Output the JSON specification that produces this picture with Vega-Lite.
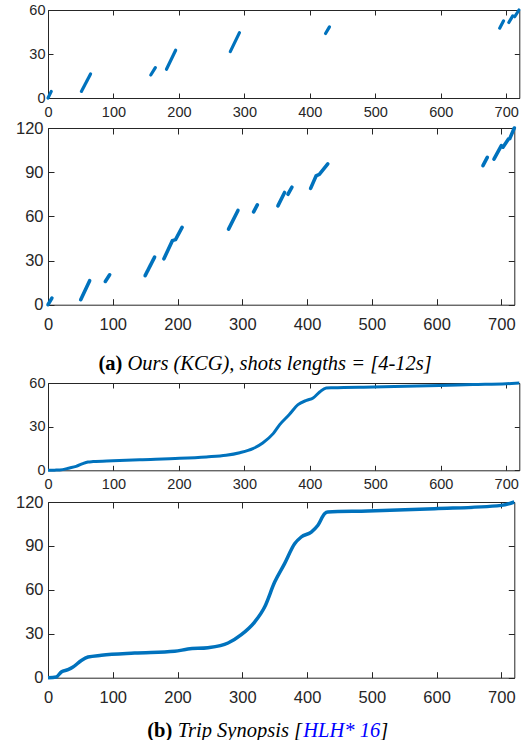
{
  "$schema": "https://vega.github.io/schema/vega-lite/v6.json",
  "background": "white",
  "padding": {"left": 5, "top": 0, "right": 5, "bottom": 0},
  "columns": 1,
  "align": "none",
  "bounds": "full",
  "spacing": {"row": -30, "column": 0},
  "config": {
    "view": {"stroke": "#262626", "strokeWidth": 1},
    "axis": {
      "domain": false, "grid": false, "labelFlush": false, "labelOverlap": false,
      "labelFont": "Liberation Sans", "labelColor": "#262626", "tickColor": "#262626", "tickWidth": 1,
      "titleFont": "Liberation Serif", "titleFontSize": 20.5, "titleColor": "#000000", "titleFontWeight": "normal",
      "maxExtent": 300
    }
  },
  "datasets": {
    "p1": [
      {"seg": 1, "x": 0, "y": 0}, {"seg": 1, "x": 5, "y": 4.5},
      {"seg": 2, "x": 51, "y": 4.5}, {"seg": 2, "x": 65, "y": 16.4},
      {"seg": 3, "x": 157, "y": 15.7}, {"seg": 3, "x": 164, "y": 20.7},
      {"seg": 4, "x": 181, "y": 19.6}, {"seg": 4, "x": 195, "y": 32.6},
      {"seg": 5, "x": 278.5, "y": 31.6}, {"seg": 5, "x": 292.5, "y": 44.6},
      {"seg": 6, "x": 424, "y": 44}, {"seg": 6, "x": 430, "y": 48.5},
      {"seg": 7, "x": 690, "y": 47.6}, {"seg": 7, "x": 696, "y": 52.6},
      {"seg": 8, "x": 704, "y": 51.5}, {"seg": 8, "x": 710, "y": 56},
      {"seg": 9, "x": 713, "y": 55.4}, {"seg": 9, "x": 719.5, "y": 60}
    ],
    "p2": [
      {"seg": 1, "x": 0, "y": 0}, {"seg": 1, "x": 6, "y": 4.5},
      {"seg": 2, "x": 50.5, "y": 3.4}, {"seg": 2, "x": 64.3, "y": 16.3},
      {"seg": 3, "x": 88.5, "y": 15.8}, {"seg": 3, "x": 95.2, "y": 20.3},
      {"seg": 4, "x": 150, "y": 19.7}, {"seg": 4, "x": 164.6, "y": 32.3},
      {"seg": 5, "x": 179, "y": 31.2}, {"seg": 5, "x": 192, "y": 43.5}, {"seg": 5, "x": 197, "y": 44.2}, {"seg": 5, "x": 207, "y": 52.5},
      {"seg": 6, "x": 278.8, "y": 51.3}, {"seg": 6, "x": 293.3, "y": 64},
      {"seg": 7, "x": 317.5, "y": 63}, {"seg": 7, "x": 323.2, "y": 67.8},
      {"seg": 8, "x": 355, "y": 67.1}, {"seg": 8, "x": 365.3, "y": 76.2},
      {"seg": 9, "x": 370.5, "y": 75}, {"seg": 9, "x": 376.7, "y": 79.8},
      {"seg": 10, "x": 405.5, "y": 79}, {"seg": 10, "x": 414, "y": 87.5}, {"seg": 10, "x": 419, "y": 88.5}, {"seg": 10, "x": 432, "y": 95.6},
      {"seg": 11, "x": 671.6, "y": 94.5}, {"seg": 11, "x": 678.3, "y": 100.1},
      {"seg": 12, "x": 688.6, "y": 98.8}, {"seg": 12, "x": 700, "y": 108},
      {"seg": 13, "x": 702.5, "y": 107}, {"seg": 13, "x": 711, "y": 112.5}, {"seg": 13, "x": 713, "y": 112.8}, {"seg": 13, "x": 720, "y": 120}
    ],
    "p3": [
      {"x": 0, "y": 0}, {"x": 10, "y": 0.1}, {"x": 18, "y": 0.2}, {"x": 33, "y": 1.6}, {"x": 43, "y": 2.7},
      {"x": 53, "y": 4.6}, {"x": 61, "y": 5.7}, {"x": 69, "y": 6}, {"x": 99, "y": 6.6}, {"x": 140, "y": 7.3},
      {"x": 201, "y": 8.2}, {"x": 242, "y": 9.2}, {"x": 272, "y": 10.3}, {"x": 293, "y": 12.1}, {"x": 313, "y": 14.9},
      {"x": 328, "y": 18.8}, {"x": 344, "y": 25.2}, {"x": 354, "y": 31.4}, {"x": 369, "y": 38.5}, {"x": 382, "y": 45.1},
      {"x": 395, "y": 48.1}, {"x": 405, "y": 49.7}, {"x": 415, "y": 53.8}, {"x": 425, "y": 56.6}, {"x": 435, "y": 56.8},
      {"x": 497, "y": 57.3}, {"x": 598, "y": 58.2}, {"x": 649, "y": 58.9}, {"x": 700, "y": 59.5}, {"x": 720, "y": 60}
    ],
    "p4": [
      {"x": 0, "y": 0}, {"x": 12.8, "y": 0.5}, {"x": 20.5, "y": 3.9}, {"x": 30.9, "y": 5.5}, {"x": 38.6, "y": 7.3},
      {"x": 51.5, "y": 11.8}, {"x": 61.8, "y": 14.1}, {"x": 82.4, "y": 15.3}, {"x": 133.8, "y": 16.8}, {"x": 195.6, "y": 18},
      {"x": 216, "y": 19.6}, {"x": 247, "y": 20.5}, {"x": 278, "y": 23.7}, {"x": 298.5, "y": 29.4}, {"x": 319, "y": 38},
      {"x": 334.5, "y": 48.3}, {"x": 350, "y": 65.3}, {"x": 365.3, "y": 77.9}, {"x": 380.8, "y": 91.5}, {"x": 391, "y": 96.1},
      {"x": 406.5, "y": 99.5}, {"x": 416.8, "y": 104.1}, {"x": 427, "y": 112}, {"x": 432, "y": 113.2}, {"x": 494, "y": 113.8},
      {"x": 597, "y": 115.4}, {"x": 700, "y": 117.7}, {"x": 720, "y": 120}
    ]
  },
  "concat": [
    {
      "width": 471.3, "height": 88,
      "data": {"name": "p1"},
      "layer": [
        {
          "mark": {"type": "line", "color": "#0072BD", "strokeWidth": 3.2, "strokeCap": "round"},
          "encoding": {
            "x": {"field": "x", "type": "quantitative", "scale": {"domain": [0, 720], "nice": false, "zero": false},
              "axis": {"orient": "bottom", "values": [0, 100, 200, 300, 400, 500, 600, 700], "tickSize": -5, "labelPadding": 12.2, "labelFontSize": 14.5, "minExtent": 47.7, "title": null}},
            "y": {"field": "y", "type": "quantitative", "scale": {"domain": [0, 60], "nice": false},
              "axis": {"orient": "left", "values": [0, 30, 60], "tickSize": -5, "labelPadding": 8, "labelFontSize": 14.5, "minExtent": 37, "title": null}},
            "detail": {"field": "seg", "type": "nominal"}
          }
        },
        {
          "mark": {"type": "line", "opacity": 0},
          "encoding": {
            "x": {"field": "x", "type": "quantitative", "scale": {"domain": [0, 720], "nice": false, "zero": false},
              "axis": {"orient": "top", "values": [0, 100, 200, 300, 400, 500, 600, 700], "tickSize": -5, "labels": false, "minExtent": 9.3, "title": null}},
            "y": {"field": "y", "type": "quantitative", "scale": {"domain": [0, 60], "nice": false},
              "axis": {"orient": "right", "values": [0, 30, 60], "tickSize": -5, "labels": false, "minExtent": 0, "title": null}},
            "detail": {"field": "seg", "type": "nominal"}
          }
        }
      ],
      "resolve": {"axis": {"x": "independent", "y": "independent"}}
    },
    {
      "width": 466.3, "height": 176.7,
      "data": {"name": "p2"},
      "layer": [
        {
          "mark": {"type": "line", "color": "#0072BD", "strokeWidth": 3.6, "strokeCap": "round"},
          "encoding": {
            "x": {"field": "x", "type": "quantitative", "scale": {"domain": [0, 720], "nice": false, "zero": false},
              "axis": {"orient": "bottom", "values": [0, 100, 200, 300, 400, 500, 600, 700], "tickSize": -6, "labelPadding": 17.3, "labelFontSize": 16.5, "minExtent": 96,
                "title": "(a)", "titleFontWeight": "bold", "titleAlign": "right", "titleBaseline": "alphabetic", "titleAngle": 0, "titleX": 73.8, "titleY": 64.3}},
            "y": {"field": "y", "type": "quantitative", "scale": {"domain": [0, 120], "nice": false},
              "axis": {"orient": "left", "values": [0, 30, 60, 90, 120], "tickSize": -6, "labelPadding": 11, "labelFontSize": 16.5, "minExtent": 41.7, "title": null}},
            "detail": {"field": "seg", "type": "nominal"}
          }
        },
        {
          "mark": {"type": "line", "opacity": 0},
          "encoding": {
            "x": {"field": "x", "type": "quantitative", "scale": {"domain": [0, 720], "nice": false, "zero": false},
              "axis": {"orient": "top", "values": [0, 100, 200, 300, 400, 500, 600, 700], "tickSize": -6, "labels": false, "minExtent": 10,
                "title": "Ours (KCG), shots lengths = [4-12s]", "titleFontStyle": "italic", "titleAlign": "left", "titleBaseline": "alphabetic", "titleAngle": 0, "titleX": 78.9, "titleY": 241}},
            "y": {"field": "y", "type": "quantitative", "scale": {"domain": [0, 120], "nice": false},
              "axis": {"orient": "right", "values": [0, 30, 60, 90, 120], "tickSize": -6, "labels": false, "minExtent": 0, "title": null}},
            "detail": {"field": "seg", "type": "nominal"}
          }
        }
      ],
      "resolve": {"axis": {"x": "independent", "y": "independent"}}
    },
    {
      "width": 471.3, "height": 87.3,
      "data": {"name": "p3"},
      "layer": [
        {
          "mark": {"type": "line", "color": "#0072BD", "strokeWidth": 3, "interpolate": "monotone"},
          "encoding": {
            "x": {"field": "x", "type": "quantitative", "scale": {"domain": [0, 720], "nice": false, "zero": false},
              "axis": {"orient": "bottom", "values": [0, 100, 200, 300, 400, 500, 600, 700], "tickSize": -5, "labelPadding": 12.2, "labelFontSize": 14.5, "minExtent": 50, "title": null}},
            "y": {"field": "y", "type": "quantitative", "scale": {"domain": [0, 60], "nice": false},
              "axis": {"orient": "left", "values": [0, 30, 60], "tickSize": -5, "labelPadding": 8, "labelFontSize": 14.5, "minExtent": 37, "title": null}}
          }
        },
        {
          "mark": {"type": "line", "opacity": 0},
          "encoding": {
            "x": {"field": "x", "type": "quantitative", "scale": {"domain": [0, 720], "nice": false, "zero": false},
              "axis": {"orient": "top", "values": [0, 100, 200, 300, 400, 500, 600, 700], "tickSize": -5, "labels": false, "minExtent": 10, "title": null}},
            "y": {"field": "y", "type": "quantitative", "scale": {"domain": [0, 60], "nice": false},
              "axis": {"orient": "right", "values": [0, 30, 60], "tickSize": -5, "labels": false, "minExtent": 0, "title": null}}
          }
        }
      ],
      "resolve": {"axis": {"x": "independent", "y": "independent"}}
    },
    {
      "width": 466.3, "height": 175.7,
      "data": {"name": "p4"},
      "layer": [
        {
          "mark": {"type": "line", "color": "#0072BD", "strokeWidth": 3.5, "interpolate": "monotone"},
          "encoding": {
            "x": {"field": "x", "type": "quantitative", "scale": {"domain": [0, 720], "nice": false, "zero": false},
              "axis": {"orient": "bottom", "values": [0, 100, 200, 300, 400, 500, 600, 700], "tickSize": -6, "labelPadding": 17.3, "labelFontSize": 16.5, "minExtent": 68,
                "title": "(b)", "titleFontWeight": "bold", "titleAlign": "right", "titleBaseline": "alphabetic", "titleAngle": 0, "titleX": 123.8, "titleY": 58.3}},
            "y": {"field": "y", "type": "quantitative", "scale": {"domain": [0, 120], "nice": false},
              "axis": {"orient": "left", "values": [0, 30, 60, 90, 120], "tickSize": -6, "labelPadding": 11, "labelFontSize": 16.5, "minExtent": 41.7,
                "title": "HLH* 16", "titleColor": "#0000FF", "titleFontStyle": "italic", "titleAlign": "left", "titleBaseline": "alphabetic", "titleAngle": 0, "titleX": 254.8, "titleY": 234}}
          }
        },
        {
          "mark": {"type": "line", "opacity": 0},
          "encoding": {
            "x": {"field": "x", "type": "quantitative", "scale": {"domain": [0, 720], "nice": false, "zero": false},
              "axis": {"orient": "top", "values": [0, 100, 200, 300, 400, 500, 600, 700], "tickSize": -6, "labels": false, "minExtent": 10,
                "title": "Trip Synopsis [", "titleFontStyle": "italic", "titleAlign": "left", "titleBaseline": "alphabetic", "titleAngle": 0, "titleX": 129.3, "titleY": 234}},
            "y": {"field": "y", "type": "quantitative", "scale": {"domain": [0, 120], "nice": false},
              "axis": {"orient": "right", "values": [0, 30, 60, 90, 120], "tickSize": -6, "labels": false, "minExtent": 0,
                "title": "]", "titleFontStyle": "italic", "titleAlign": "left", "titleBaseline": "alphabetic", "titleAngle": 0, "titleX": -134.5, "titleY": 234}}
          }
        }
      ],
      "resolve": {"axis": {"x": "independent", "y": "independent"}}
    }
  ]
}
